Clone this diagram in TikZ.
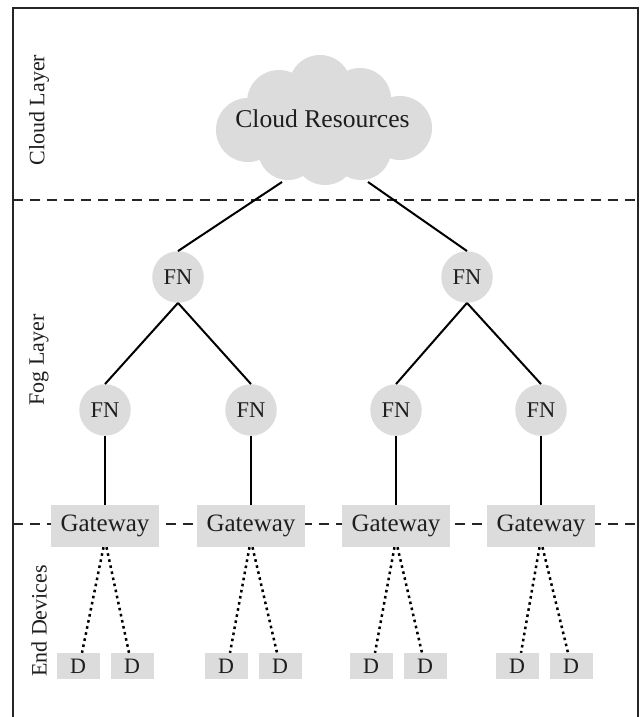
\documentclass[tikz,border=0pt]{standalone}
\usepackage{fontspec}
\setmainfont{Liberation Serif}
\definecolor{boxgray}{HTML}{DCDCDC}
\definecolor{inkgray}{HTML}{1E1E1E}
\tikzset{
  fognode/.style={circle, fill=boxgray, minimum size=51.5pt, inner sep=0pt, text=inkgray, font=\fontsize{22.5}{24}\selectfont},
  gatebox/.style={rectangle, fill=boxgray, minimum width=108.5pt, minimum height=42pt, inner sep=0pt, text=inkgray, font=\fontsize{25}{26}\selectfont},
  devbox/.style={rectangle, fill=boxgray, minimum width=43pt, minimum height=26pt, inner sep=0pt, text=inkgray, font=\fontsize{22}{23}\selectfont},
  layerlabel/.style={rotate=90, text=inkgray, font=\fontsize{22}{24}\selectfont},
  cloudtext/.style={text=inkgray, inner sep=0pt, font=\fontsize{25.6}{27}\selectfont},
  cloudpuff/.style={fill=boxgray},
  solidlink/.style={draw=black, line width=2pt},
  dotlink/.style={draw=black, line width=2.5pt, dash pattern=on 2.6pt off 3.6pt},
  layerline/.style={draw=black!85, line width=2pt, dash pattern=on 10pt off 7pt},
}
\begin{document}
\begin{tikzpicture}[x=1pt, y=-1pt]
\useasboundingbox (0,0) rectangle (640,717);
\fill[white] (0,0) rectangle (640,717);
% frame
\draw[line width=1.6pt, draw=black!85] (13,730) -- (13,8) -- (638,8) -- (638,730);
% layer separators
\coordinate (sepAl) at (13,200);
\coordinate (sepAr) at (640,200);
\coordinate (sepBl) at (13,524);
\coordinate (sepBr) at (640,524);
\draw[layerline] (sepAl) -- (sepAr);
\draw[layerline] (sepBl) -- (sepBr);
% layer labels
\node[layerlabel] (lcloud) at (39,110) {Cloud Layer};
\node[layerlabel] (lfog) at (39,360) {Fog Layer};
\node[layerlabel] (lend) at (39,621) {End Devices};
% cloud shape
\fill[cloudpuff] (323,125) ellipse [x radius=75, y radius=42];
\fill[cloudpuff] (320,86) circle [radius=31];
\fill[cloudpuff] (279,102) circle [radius=32];
\fill[cloudpuff] (360,99) circle [radius=31];
\fill[cloudpuff] (248,130) circle [radius=32];
\fill[cloudpuff] (400,128) circle [radius=32];
\fill[cloudpuff] (288,150) circle [radius=30];
\fill[cloudpuff] (325,154) circle [radius=31];
\fill[cloudpuff] (361,150) circle [radius=30];
\node[cloudtext] (cloud) at (322.5,119) {Cloud Resources};
\coordinate (cl) at (282,182);
\coordinate (cr) at (368,182);
% fog nodes
\node[fognode] (f1) at (178,277) {FN};
\node[fognode] (f2) at (467,277) {FN};
\node[fognode] (f11) at (105,410) {FN};
\node[fognode] (f12) at (251,410) {FN};
\node[fognode] (f21) at (396,410) {FN};
\node[fognode] (f22) at (541,410) {FN};
% gateways
\node[gatebox] (g1) at (105,526) {Gateway};
\node[gatebox] (g2) at (251,526) {Gateway};
\node[gatebox] (g3) at (396,526) {Gateway};
\node[gatebox] (g4) at (541,526) {Gateway};
% devices
\node[devbox] (d1a) at (78,666) {D};
\node[devbox] (d1b) at (132,666) {D};
\node[devbox] (d2a) at (226,666) {D};
\node[devbox] (d2b) at (280,666) {D};
\node[devbox] (d3a) at (371,666) {D};
\node[devbox] (d3b) at (425,666) {D};
\node[devbox] (d4a) at (517,666) {D};
\node[devbox] (d4b) at (571,666) {D};
% links
\draw[solidlink] (cl) -- (f1.north);
\draw[solidlink] (cr) -- (f2.north);
\draw[solidlink] (f1.south) -- (f11.north);
\draw[solidlink] (f1.south) -- (f12.north);
\draw[solidlink] (f2.south) -- (f21.north);
\draw[solidlink] (f2.south) -- (f22.north);
\draw[solidlink] (f11.south) -- (g1.north);
\draw[solidlink] (f12.south) -- (g2.north);
\draw[solidlink] (f21.south) -- (g3.north);
\draw[solidlink] (f22.south) -- (g4.north);
\foreach \g/\a/\b in {g1/d1a/d1b, g2/d2a/d2b, g3/d3a/d3b, g4/d4a/d4b}{
  \draw[dotlink] ([xshift=-1.5pt]\g.south) -- ([xshift=4pt]\a.north);
  \draw[dotlink] ([xshift=1.5pt]\g.south) -- ([xshift=-3pt]\b.north);
}
\end{tikzpicture}
\end{document}
